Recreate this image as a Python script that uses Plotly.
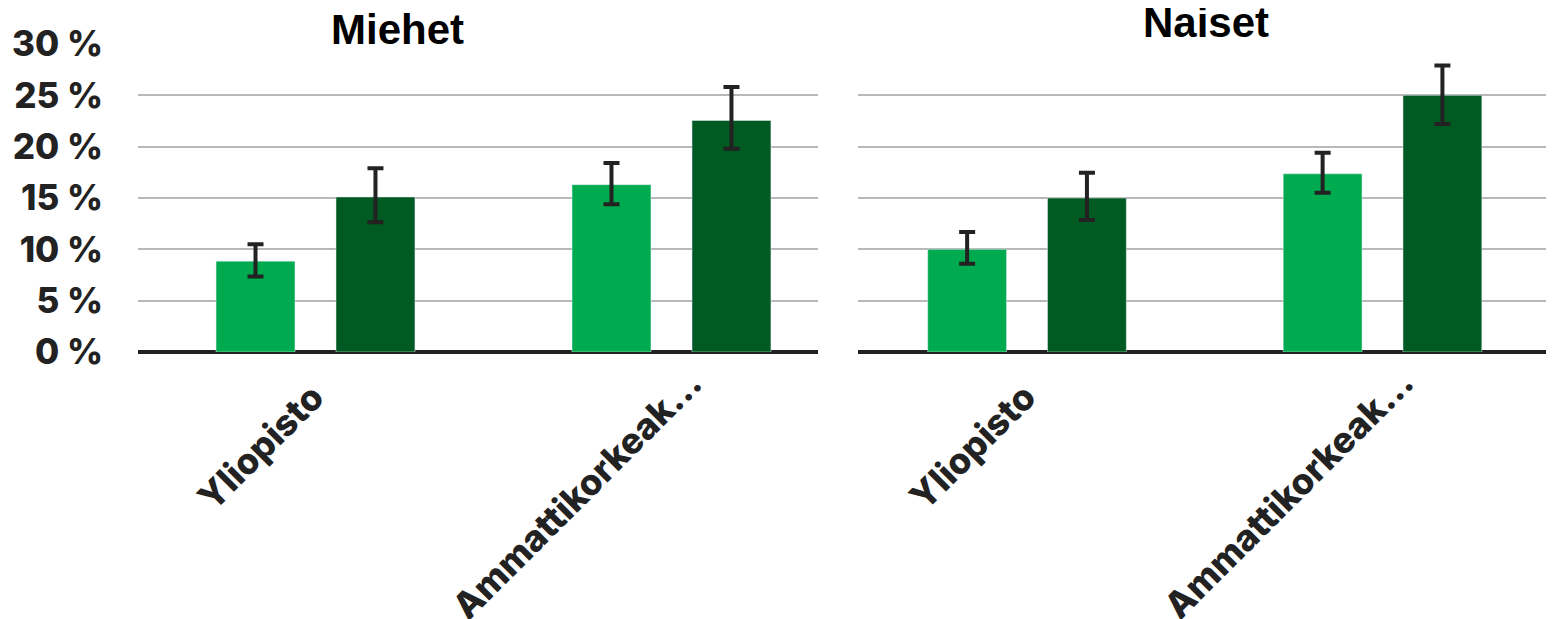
import plotly.graph_objects as go

categories = ["Yliopisto", "Ammattikorkeak..."]

# Miehet
men_light = [8.85, 16.3]
men_light_up = [1.65, 2.1]
men_light_down = [1.5, 1.9]
men_dark = [15.1, 22.55]
men_dark_up = [2.8, 3.25]
men_dark_down = [2.45, 2.75]

# Naiset
women_light = [10.0, 17.35]
women_light_up = [1.7, 2.05]
women_light_down = [1.4, 1.85]
women_dark = [15.0, 25.0]
women_dark_up = [2.45, 2.9]
women_dark_down = [2.15, 2.8]

yticks = [0, 5, 10, 15, 20, 25, 30]

light = "#00AB4F"
dark = "#005A21"
ink = "#222222"

def err(up, down):
    return dict(type="data", symmetric=False, array=up, arrayminus=down,
                color=ink, thickness=4, width=8)

fig = go.Figure()
fig.add_bar(x=categories, y=men_light, marker_color=light, error_y=err(men_light_up, men_light_down),
            xaxis="x", yaxis="y", showlegend=False)
fig.add_bar(x=categories, y=men_dark, marker_color=dark, error_y=err(men_dark_up, men_dark_down),
            xaxis="x", yaxis="y", showlegend=False)
fig.add_bar(x=categories, y=women_light, marker_color=light, error_y=err(women_light_up, women_light_down),
            xaxis="x2", yaxis="y2", showlegend=False)
fig.add_bar(x=categories, y=women_dark, marker_color=dark, error_y=err(women_dark_up, women_dark_down),
            xaxis="x2", yaxis="y2", showlegend=False)

tickfont = dict(family="Inter", size=35, color=ink, weight=800)
labelfont = dict(family="Inter", size=36, color=ink, weight=800)

# category labels drawn as rotated annotations (Excel-like placement)
annots = []
for xr in ("x", "x2"):
    for cat, dx, dy in zip(categories, [-55, -94], [-95, -142]):
        annots.append(dict(text=cat, x=cat, y=0, xref=xr, yref="y", textangle=-45,
                           xanchor="center", yanchor="middle", xshift=dx, yshift=dy,
                           showarrow=False, font=labelfont))

annots.append(dict(text="<b>Miehet</b>", x=0.183, y=1, xref="paper", yref="paper",
                   xanchor="center", yanchor="bottom", yshift=-11, showarrow=False,
                   font=dict(family="Liberation Sans", size=42, color="black")))
annots.append(dict(text="<b>Naiset</b>", x=0.7542, y=1, xref="paper", yref="paper",
                   xanchor="center", yanchor="bottom", yshift=-4, showarrow=False,
                   font=dict(family="Liberation Sans", size=42, color="black")))

xcommon = dict(showticklabels=False, showgrid=False, showline=False, ticks="", automargin=False)
ycommon = dict(range=[0, 30], tickvals=yticks, showgrid=True, gridcolor="#b8b8b8", gridwidth=1.5,
               zeroline=True, zerolinecolor=ink, zerolinewidth=4, fixedrange=True, automargin=False)

fig.update_layout(
    width=1554, height=619,
    margin=dict(l=130, r=8, t=36, b=275),
    paper_bgcolor="white", plot_bgcolor="white",
    barmode="group", bargap=0.326, bargroupgap=0.342,
    xaxis=dict(domain=[0, 0.4802], anchor="y", range=[-0.4986, 1.4115], **xcommon),
    xaxis2=dict(domain=[0.5085, 1], anchor="y2", range=[-0.4754, 1.4824], **xcommon),
    yaxis=dict(anchor="x", ticktext=[f"{v} %" for v in yticks], tickfont=tickfont,
               ticklabelstandoff=34, **ycommon),
    yaxis2=dict(anchor="x2", showticklabels=False, **ycommon),
    annotations=annots,
)

fig.write_html("out.html")
